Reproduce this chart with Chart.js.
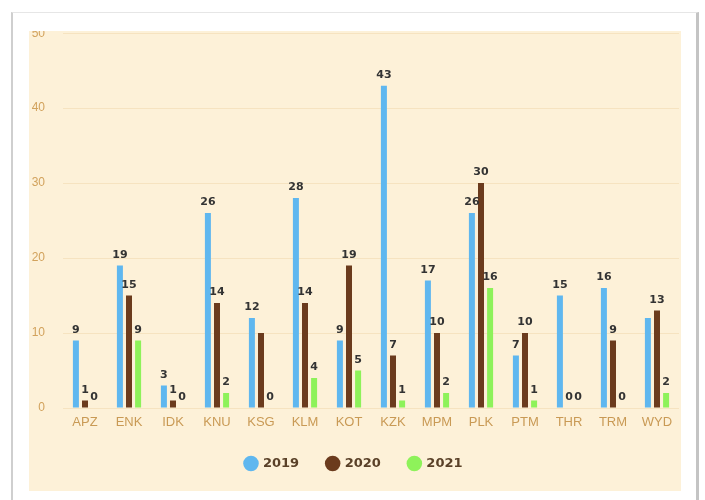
<!DOCTYPE html>
<html>
<head>
<meta charset="utf-8">
<script src="https://cdn.jsdelivr.net/npm/chart.js@4.4.1/dist/chart.umd.min.js"></script>
<style>
  html, body { margin: 0; padding: 0; background: #fff; }
  .card {
    position: absolute; left: 11px; top: 12px; width: 683px; height: 520px;
    background: #fff;
    border-left: 2px solid #cfcfcf; border-top: 1px solid #e6e6e6; border-right: 3px solid #c4c4c4;
  }
  .panel {
    position: absolute; left: 29px; top: 31px; width: 652px; height: 460px;
    background: #fdf1d8; overflow: hidden;
  }
  #chart { position: absolute; left: 0; top: -8px; }
</style>
</head>
<body>
<div class="card"></div>
<div class="panel"><canvas id="chart" width="652" height="468"></canvas></div>
<script>
// valores por distrito
const categories = ['APZ', 'ENK', 'IDK', 'KNU', 'KSG', 'KLM', 'KOT', 'KZK', 'MPM', 'PLK', 'PTM', 'THR', 'TRM', 'WYD'];
const seriesNames = ['2019', '2020', '2021'];
const values2019 = [9, 19, 3, 26, 12, 28, 9, 43, 17, 26, 7, 15, 16, 12];
const values2020 = [1, 15, 1, 14, 10, 14, 19, 7, 10, 30, 10, 0, 9, 13];
const values2021 = [0, 9, 0, 2, 0, 4, 5, 1, 2, 16, 1, 0, 0, 2];
const yTicks = [0, 10, 20, 30, 40, 50];

const colors = ['#5fb7ef', '#6b3b1d', '#8ef25a'];

// rótulos de valor acima das barras (esconde os que se sobrepõem)
const valueLabels = {
  id: 'valueLabels',
  afterDatasetsDraw(chart) {
    const ctx = chart.ctx;
    ctx.save();
    ctx.font = 'bold 11px "DejaVu Sans"';
    const items = [];
    chart.data.datasets.forEach((ds, i) => {
      const meta = chart.getDatasetMeta(i);
      meta.data.forEach((bar, j) => {
        const text = String(ds.data[j]);
        items.push({ text, x: bar.x, y: bar.y - 8, w: ctx.measureText(text).width, v: ds.data[j] });
      });
    });
    items.sort((a, b) => b.v - a.v);
    const drawn = [];
    ctx.fillStyle = '#333';
    ctx.textAlign = 'center';
    ctx.textBaseline = 'alphabetic';
    items.forEach(it => {
      const box = { l: it.x - it.w / 2, r: it.x + it.w / 2, t: it.y - 13, b: it.y + 4 };
      if (drawn.some(d => box.l < d.r && box.r > d.l && box.t < d.b && box.b > d.t)) return;
      drawn.push(box);
      ctx.fillText(it.text, it.x, it.y);
    });
    ctx.restore();
  }
};

const ctx = document.getElementById('chart').getContext('2d');
new Chart(ctx, {
  type: 'bar',
  data: {
    labels: categories,
    datasets: [values2019, values2020, values2021].map((d, i) => ({
      label: seriesNames[i],
      data: d,
      backgroundColor: colors[i],
      borderWidth: 0,
      categoryPercentage: 0.62,
      barPercentage: 0.66
    }))
  },
  options: {
    responsive: false,
    animation: false,
    layout: { padding: { left: 0, right: 2, top: 0, bottom: 11 } },
    plugins: {
      legend: {
        position: 'bottom',
        labels: {
          usePointStyle: true,
          pointStyle: 'circle',
          boxWidth: 11,
          boxHeight: 11,
          padding: 28,
          color: '#5a4128',
          font: { family: '"DejaVu Sans"', size: 13, weight: 'bold' }
        }
      },
      tooltip: { enabled: false }
    },
    scales: {
      x: {
        afterFit: s => { s.height = 21; },
        grid: { display: false, drawTicks: false },
        border: { display: false },
        ticks: { color: '#c99a55', padding: 7, font: { family: '"Liberation Sans Narrow", "Liberation Sans", sans-serif', size: 13 } }
      },
      y: {
        min: 0,
        max: 50,
        afterFit: s => { s.width = 34; },
        afterBuildTicks: s => { s.ticks = yTicks.map(v => ({ value: v })); },
        grid: { color: '#f6e3c0', drawTicks: true, tickLength: 15, tickColor: 'rgba(0,0,0,0)' },
        border: { display: false },
        ticks: { color: '#d2a25c', padding: 3, font: { family: '"Liberation Sans Narrow", "Liberation Sans", sans-serif', size: 12 } }
      }
    }
  },
  plugins: [valueLabels]
});
</script>
</body>
</html>
